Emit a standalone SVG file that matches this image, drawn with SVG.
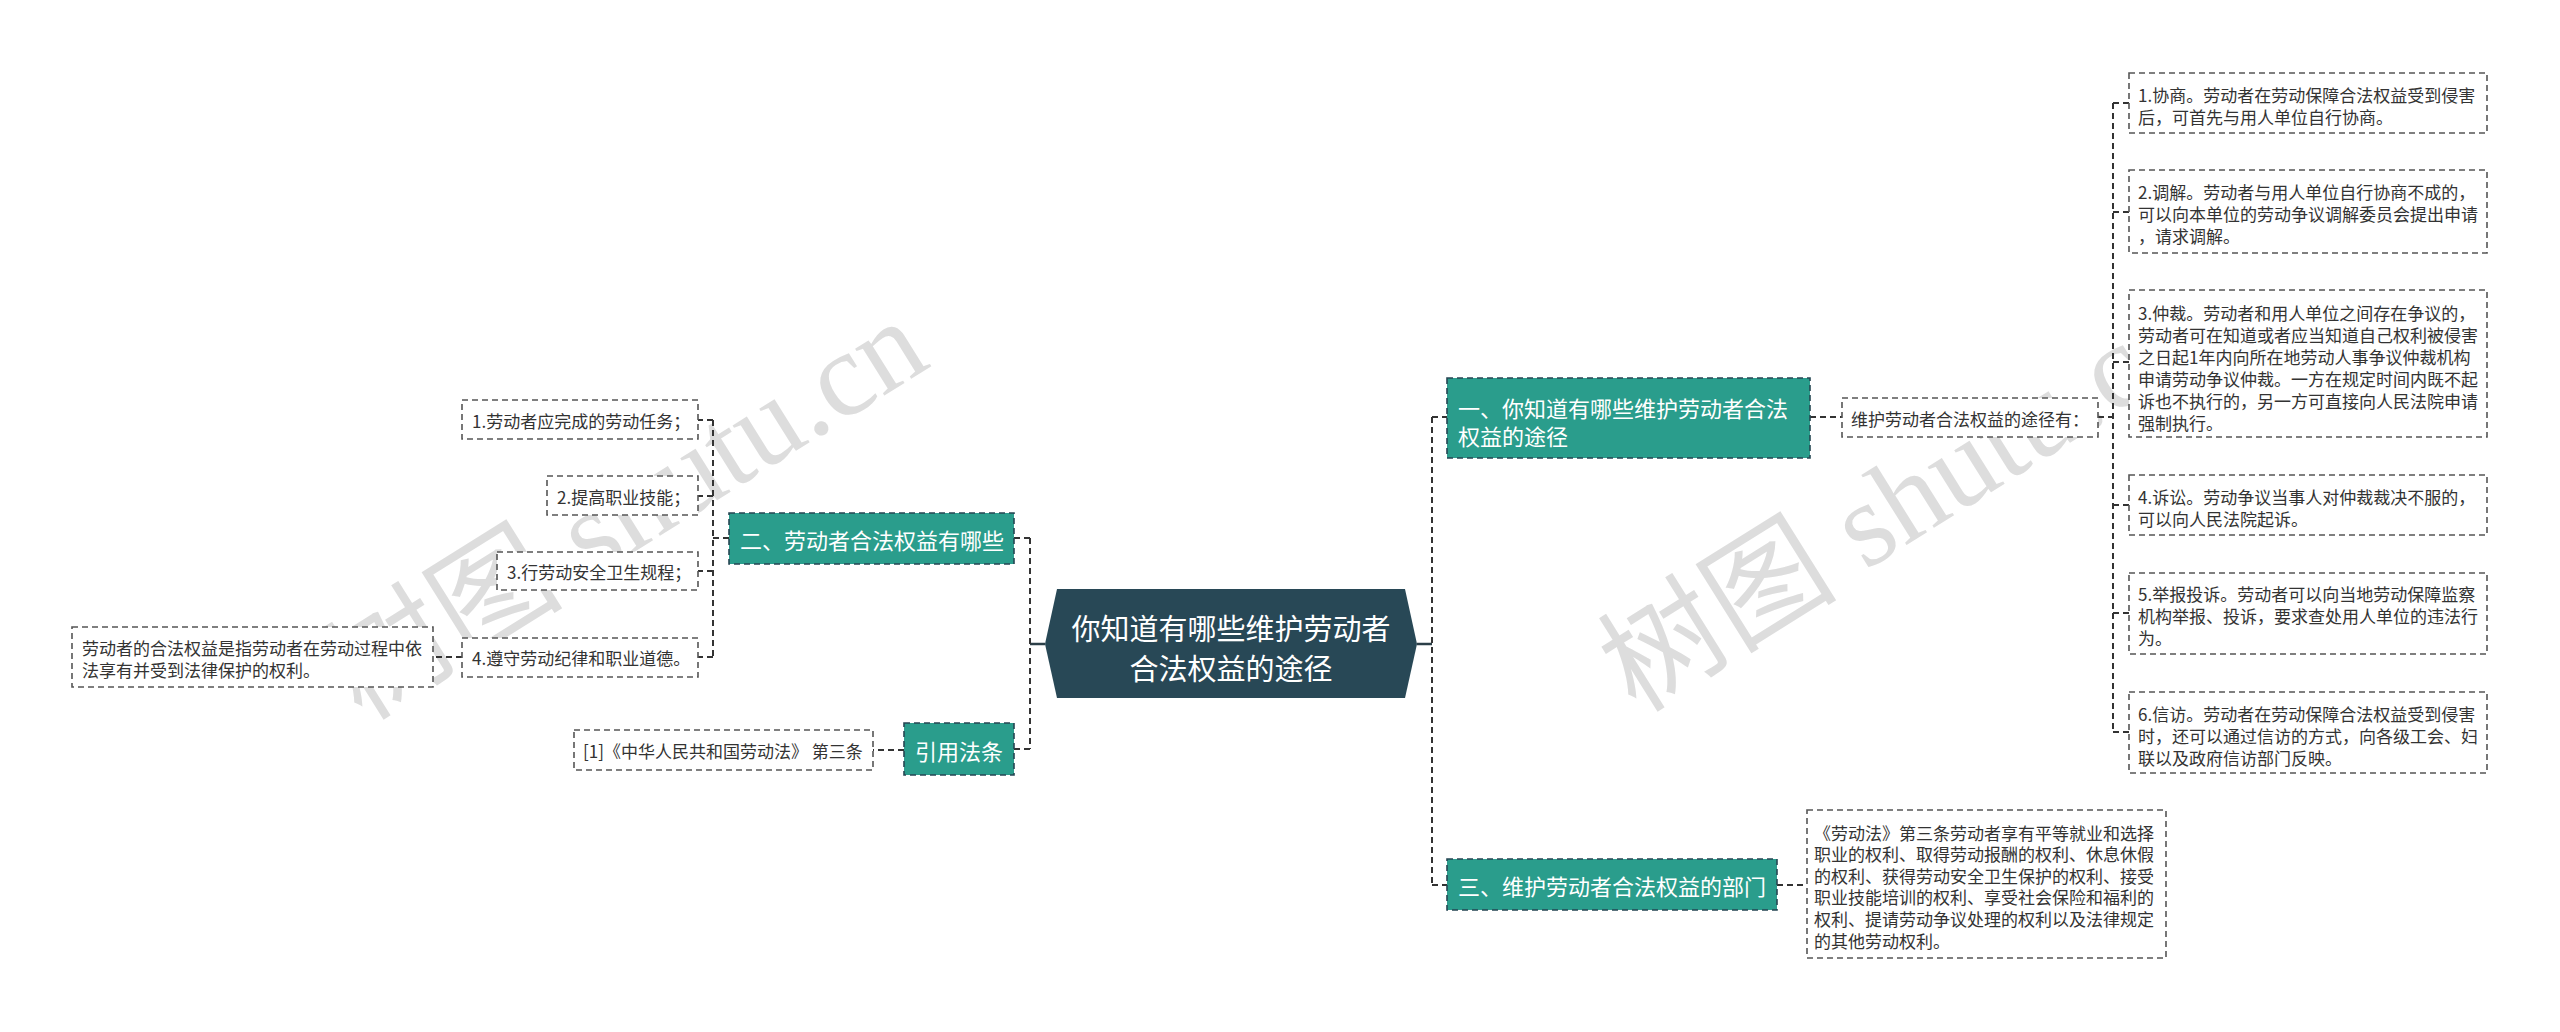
<svg xmlns="http://www.w3.org/2000/svg" width="2560" height="1032" viewBox="0 0 2560 1032">
<style>
.wm{font-family:"Liberation Serif","Noto Sans CJK SC",serif;font-size:120px;fill:#d2d2d2;opacity:0.75}
.t{font-family:"Microsoft YaHei","Noto Sans CJK SC",sans-serif;dominant-baseline:central}
.sm{font-size:17px;fill:#333}
.md{font-size:22px;fill:#fff}
.lg{font-size:29px;fill:#fff}
.box{fill:#fff;stroke:#555;stroke-width:1.6;stroke-dasharray:6 4}
.teal{fill:#2a9d8c;stroke:#264653;stroke-width:1.6;stroke-dasharray:6 4}
.c{fill:none;stroke:#333;stroke-width:2;stroke-dasharray:6 4}
.s{fill:none;stroke:#2b3f48;stroke-width:2.5}
</style>
<rect width="2560" height="1032" fill="#fff"/>
<g id="watermarks">
<text class="wm" transform="translate(362,722) rotate(-32)">树图 shutu.cn</text>
<text class="wm" transform="translate(1636,714) rotate(-32)">树图 shutu.cn</text>
</g>
<g id="connectors">
<path class="s" d="M1045 644H1030"/>
<path class="c" d="M1030 538V749M1030 538H1014M1030 749H1014"/>
<path class="s" d="M1417 644H1432"/>
<path class="c" d="M1432 417V885M1432 417H1447M1432 885H1447"/>
<path class="c" d="M1810 417H1842"/>
<path class="c" d="M2098 417H2113M2113 103V732M2113 103H2129M2113 212H2129M2113 362H2129M2113 505H2129M2113 613H2129M2113 732H2129"/>
<path class="c" d="M1777 885H1807"/>
<path class="c" d="M729 538H713M713 420V657M713 420H698M713 496H698M713 571H698M713 657H698"/>
<path class="c" d="M462 657H433"/>
<path class="c" d="M904 750H873"/>
</g>
<g id="root">
<path d="M1057 589H1405L1417 644L1405 698H1057L1045 644Z" fill="#284856"/>
<text class="t lg" x="1231" y="627" text-anchor="middle">你知道有哪些维护劳动者</text>
<text class="t lg" x="1231" y="667" text-anchor="middle">合法权益的途径</text>
</g>
<g id="n1">
<rect class="teal" x="1447" y="378" width="363" height="80"/>
<text class="t md" x="1458" y="407">一、你知道有哪些维护劳动者合法</text>
<text class="t md" x="1458" y="435">权益的途径</text>
</g>
<g id="n1a">
<rect class="box" x="1842" y="398" width="256" height="39"/>
<text class="t sm" x="1851" y="418">维护劳动者合法权益的途径有：</text>
</g>
<g id="r1">
<rect class="box" x="2129" y="73" width="358" height="60"/>
<text class="t sm" x="2138" y="94">1.协商。劳动者在劳动保障合法权益受到侵害</text>
<text class="t sm" x="2138" y="116">后，可首先与用人单位自行协商。</text>
</g>
<g id="r2">
<rect class="box" x="2129" y="170" width="358" height="83"/>
<text class="t sm" x="2138" y="191">2.调解。劳动者与用人单位自行协商不成的，</text>
<text class="t sm" x="2138" y="213">可以向本单位的劳动争议调解委员会提出申请</text>
<text class="t sm" x="2138" y="235">，请求调解。</text>
</g>
<g id="r3">
<rect class="box" x="2129" y="290" width="358" height="147"/>
<text class="t sm" x="2138" y="312">3.仲裁。劳动者和用人单位之间存在争议的，</text>
<text class="t sm" x="2138" y="334">劳动者可在知道或者应当知道自己权利被侵害</text>
<text class="t sm" x="2138" y="356">之日起1年内向所在地劳动人事争议仲裁机构</text>
<text class="t sm" x="2138" y="378">申请劳动争议仲裁。一方在规定时间内既不起</text>
<text class="t sm" x="2138" y="400">诉也不执行的，另一方可直接向人民法院申请</text>
<text class="t sm" x="2138" y="422">强制执行。</text>
</g>
<g id="r4">
<rect class="box" x="2129" y="475" width="358" height="60"/>
<text class="t sm" x="2138" y="496">4.诉讼。劳动争议当事人对仲裁裁决不服的，</text>
<text class="t sm" x="2138" y="518">可以向人民法院起诉。</text>
</g>
<g id="r5">
<rect class="box" x="2129" y="573" width="358" height="81"/>
<text class="t sm" x="2138" y="593">5.举报投诉。劳动者可以向当地劳动保障监察</text>
<text class="t sm" x="2138" y="615">机构举报、投诉，要求查处用人单位的违法行</text>
<text class="t sm" x="2138" y="637">为。</text>
</g>
<g id="r6">
<rect class="box" x="2129" y="692" width="358" height="81"/>
<text class="t sm" x="2138" y="713">6.信访。劳动者在劳动保障合法权益受到侵害</text>
<text class="t sm" x="2138" y="735">时，还可以通过信访的方式，向各级工会、妇</text>
<text class="t sm" x="2138" y="757">联以及政府信访部门反映。</text>
</g>
<g id="n3">
<rect class="teal" x="1447" y="859" width="330" height="51"/>
<text class="t md" x="1458" y="885">三、维护劳动者合法权益的部门</text>
</g>
<g id="n3a">
<rect class="box" x="1807" y="810" width="359" height="148"/>
<text class="t sm" x="1814" y="832">《劳动法》第三条劳动者享有平等就业和选择</text>
<text class="t sm" x="1814" y="853">职业的权利、取得劳动报酬的权利、休息休假</text>
<text class="t sm" x="1814" y="875">的权利、获得劳动安全卫生保护的权利、接受</text>
<text class="t sm" x="1814" y="896">职业技能培训的权利、享受社会保险和福利的</text>
<text class="t sm" x="1814" y="918">权利、提请劳动争议处理的权利以及法律规定</text>
<text class="t sm" x="1814" y="940">的其他劳动权利。</text>
</g>
<g id="n2">
<rect class="teal" x="729" y="513" width="285" height="51"/>
<text class="t md" x="740" y="539">二、劳动者合法权益有哪些</text>
</g>
<g id="l1">
<rect class="box" x="462" y="400" width="236" height="39"/>
<text class="t sm" x="472" y="420">1.劳动者应完成的劳动任务；</text>
</g>
<g id="l2">
<rect class="box" x="547" y="476" width="151" height="39"/>
<text class="t sm" x="557" y="496">2.提高职业技能；</text>
</g>
<g id="l3">
<rect class="box" x="497" y="552" width="201" height="38"/>
<text class="t sm" x="507" y="571">3.行劳动安全卫生规程；</text>
</g>
<g id="l4">
<rect class="box" x="462" y="638" width="236" height="39"/>
<text class="t sm" x="472" y="657">4.遵守劳动纪律和职业道德。</text>
</g>
<g id="l4a">
<rect class="box" x="72" y="627" width="361" height="60"/>
<text class="t sm" x="82" y="647">劳动者的合法权益是指劳动者在劳动过程中依</text>
<text class="t sm" x="82" y="669">法享有并受到法律保护的权利。</text>
</g>
<g id="ref">
<rect class="teal" x="904" y="723" width="110" height="52"/>
<text class="t md" x="915" y="750">引用法条</text>
</g>
<g id="ref1">
<rect class="box" x="574" y="730" width="299" height="40"/>
<text class="t sm" x="583" y="750">[1]《中华人民共和国劳动法》 第三条</text>
</g>
</svg>
